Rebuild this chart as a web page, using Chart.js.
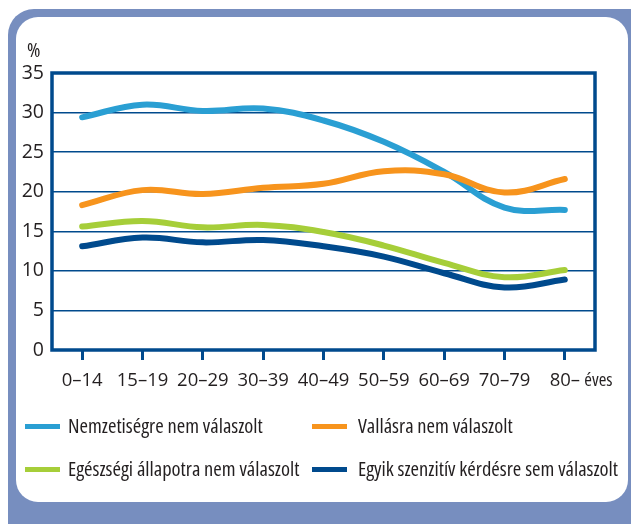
<!DOCTYPE html>
<html>
<head>
<meta charset="utf-8">
<script src="https://cdn.jsdelivr.net/npm/chart.js@4.4.1/dist/chart.umd.min.js"></script>
<style>
  html, body { margin: 0; padding: 0; background: #ffffff; width: 631px; height: 524px; overflow: hidden; }
  body { position: relative; font-family: 'Open Sans', sans-serif; font-stretch: condensed; color: #231f20; }
  #frame { position: absolute; left: 8px; top: 9px; width: 650px; height: 540px; background: #778ebf; border-radius: 26px; }
  #panel { position: absolute; left: 16px; top: 17px; width: 612px; height: 485px; background: #ffffff; border-radius: 22px; }
  #c { position: absolute; left: 0; top: 0; }
  .txt { position: absolute; white-space: nowrap; font-size: 20.5px; line-height: 24px; }
  .sw { position: absolute; width: 35px; height: 5px; }
</style>
</head>
<body>
<div id="frame"></div>
<div id="panel"></div>
<canvas id="c" width="631" height="524"></canvas>
<div class="txt" style="left:27px; top:37px;">%</div>
<div id="legend"></div>
<script>
// Categories (age groups)
const categories = ['0–14', '15–19', '20–29', '30–39', '40–49', '50–59', '60–69', '70–79', '80–'];
const xUnit = 'éves';
// Series names
const seriesNames = [
  'Nemzetiségre nem válaszolt',
  'Vallásra nem válaszolt',
  'Egészségi állapotra nem válaszolt',
  'Egyik szenzitív kérdésre sem válaszolt'
];
// Series values (%)
const nemzetiseg = [29.4, 31.0, 30.2, 30.5, 29.0, 26.3, 22.5, 18.0, 17.7];
const vallas     = [18.3, 20.2, 19.7, 20.5, 21.0, 22.6, 22.2, 19.9, 21.6];
const egeszseg   = [15.6, 16.3, 15.5, 15.8, 14.9, 13.2, 11.0, 9.2, 10.1];
const egyik      = [13.1, 14.2, 13.6, 13.9, 13.1, 11.8, 9.7, 7.9, 8.9];
// Y tick values
const yTicks = [0, 5, 10, 15, 20, 25, 30, 35];

const colors = ['#2a9fd3', '#f7941d', '#a6ce39', '#004a8d'];
const seriesValues = [nemzetiseg, vallas, egeszseg, egyik];
const FONT = "'Open Sans', sans-serif";
const DARK = '#004a8d';
const XFONT_SIZE = 18.5;

// HTML legend (2 columns x 2 rows)
const legendPos = [
  {x: 25, y: 426, tx: 68},
  {x: 312, y: 426, tx: 358},
  {x: 25, y: 469, tx: 68},
  {x: 312, y: 469, tx: 358}
];
const lg = document.getElementById('legend');
seriesNames.forEach((name, i) => {
  const p = legendPos[i];
  const sw = document.createElement('div');
  sw.className = 'sw';
  sw.style.left = p.x + 'px';
  sw.style.top = (p.y - 2.5) + 'px';
  sw.style.background = colors[i];
  lg.appendChild(sw);
  const t = document.createElement('div');
  t.className = 'txt';
  t.style.left = p.tx + 'px';
  t.style.top = (p.y - 13) + 'px';
  t.textContent = name;
  lg.appendChild(t);
});

const boxPlugin = {
  id: 'box',
  beforeDatasetsDraw(chart) {
    const a = chart.chartArea;
    const ctx = chart.ctx;
    ctx.save();
    ctx.strokeStyle = DARK;
    ctx.lineWidth = 3.5;
    ctx.strokeRect(a.left, a.top, a.right - a.left, a.bottom - a.top);
    ctx.restore();
  },
  afterDraw(chart) {
    // unit text after the last category label
    const xs = chart.scales.x;
    const last = categories.length - 1;
    const ctx = chart.ctx;
    ctx.save();
    ctx.font = 'condensed ' + XFONT_SIZE + 'px ' + FONT;
    const lw = ctx.measureText(categories[last]).width;
    const px = xs.getPixelForTick(last);
    ctx.fillStyle = '#231f20';
    ctx.textAlign = 'left';
    ctx.textBaseline = 'middle';
    ctx.fillText(xUnit, px + lw / 2 + 7, xs.bottom - 174 + 10 + 10 + XFONT_SIZE * 1.2 / 2);
    ctx.restore();
  }
};

new Chart(document.getElementById('c'), {
  type: 'line',
  data: {
    labels: categories,
    datasets: seriesNames.map((name, i) => ({
      label: name,
      data: seriesValues[i],
      borderColor: colors[i],
      backgroundColor: colors[i],
      borderWidth: 6,
      borderCapStyle: 'round',
      borderJoinStyle: 'round',
      pointRadius: 0,
      tension: 0.4,
      fill: false,
      order: 4 - i
    }))
  },
  options: {
    responsive: false,
    animation: false,
    devicePixelRatio: 1,
    layout: { padding: { left: 0, top: 73, right: 36, bottom: 0 } },
    plugins: { legend: { display: false }, tooltip: { enabled: false } },
    scales: {
      x: {
        type: 'category',
        offset: true,
        afterFit(scale) { scale.height = 174; },
        border: { display: false },
        grid: {
          drawOnChartArea: false,
          drawTicks: true,
          tickLength: 10,
          tickWidth: 3,
          tickColor: DARK,
          offset: false
        },
        ticks: {
          color: '#231f20',
          font: { family: FONT, size: XFONT_SIZE, style: 'condensed' },
          padding: 10,
          maxRotation: 0,
          autoSkip: false
        }
      },
      y: {
        min: 0,
        max: 35,
        afterFit(scale) { scale.width = 52; },
        afterBuildTicks(scale) { scale.ticks = yTicks.map(v => ({ value: v })); },
        border: { display: false },
        grid: {
          drawTicks: false,
          color: DARK,
          lineWidth: 1.5
        },
        ticks: {
          color: '#231f20',
          font: { family: FONT, size: 19.5, style: 'condensed' },
          padding: 8
        }
      }
    }
  },
  plugins: [boxPlugin]
});
</script>
</body>
</html>
